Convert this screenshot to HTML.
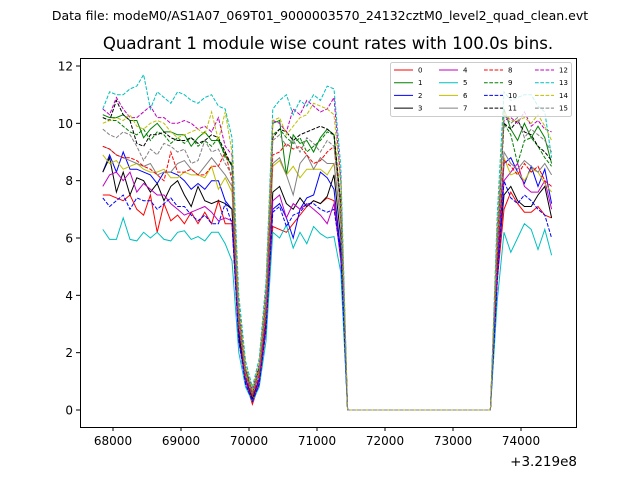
<!DOCTYPE html>
<html><head><meta charset="utf-8"><style>
body{margin:0;background:#fff;}
svg{display:block;font-family:"DejaVu Sans","Liberation Sans",sans-serif;}
</style></head><body>
<svg id="chart" width="640" height="480" viewBox="0 0 640 480">
<rect width="640" height="480" fill="#fff"/>
<text x="320" y="20" text-anchor="middle" font-size="12.5">Data file: modeM0/AS1A07_069T01_9000003570_24132cztM0_level2_quad_clean.evt</text>
<text x="328" y="49" text-anchor="middle" font-size="16.6">Quadrant 1 module wise count rates with 100.0s bins.</text>
<g id="plot"></g>
<rect x="80.5" y="58.5" width="496" height="369" fill="none" stroke="#000" stroke-width="1"/>
<g id="axes"></g>
<text x="577" y="466" text-anchor="end" font-size="13.5">+3.219e8</text>
<g id="legend"></g>
</svg>
<script>
const startTime = 67850;
const binSize = 100;
const xTicks = [68000,69000,70000,71000,72000,73000,74000];
const yTicks = [0,2,4,6,8,10,12];
const seriesNames = ['0','1','2','3','4','5','6','7','8','9','10','11','12','13','14','15'];
const colors = ['#ff0000','#008000','#0000ff','#000000','#bf00bf','#00bfbf','#bfbf00','#808080','#ff0000','#008000','#0000ff','#000000','#bf00bf','#00bfbf','#bfbf00','#808080'];
const gap = [0,0,0,0,0,0,0,0,0,0,0,0,0,0,0,0,0,0,0,0,0,0];
const segA = [
[7.5,7.5,7.4,7.3,7.5,7.0,6.8,7.5,6.2,7.2,6.6,6.8,6.5,6.9,6.5,6.9,6.5,7.3,6.5],
[10.3,10.2,10.2,10.3,10.1,10.1,9.5,9.8,10.0,9.7,9.7,9.6,9.6,9.2,9.5,9.7,9.4,9.4,8.9],
[8.3,8.9,8.3,9.0,8.4,8.4,8.3,8.2,7.9,8.3,8.3,8.2,8.0,7.7,7.9,7.7,8.0,8.0,7.3],
[8.3,8.8,7.6,8.3,7.5,8.1,8.0,7.6,7.9,7.3,7.8,8.0,7.5,7.1,7.8,7.3,7.2,7.3,7.2],
[7.8,8.2,8.3,8.0,8.3,7.6,7.9,7.7,7.5,7.5,7.2,7.0,6.8,6.9,7.0,7.1,6.9,6.6,6.7],
[6.3,5.95,5.95,6.7,5.95,5.9,6.2,6.0,6.2,5.95,5.9,6.2,6.25,5.95,6.05,5.9,6.2,6.2,5.8],
[8.9,8.6,8.7,8.4,8.5,8.6,8.4,8.3,8.3,8.4,8.1,8.1,8.3,8.2,8.2,8.1,8.5,7.7,8.1],
[9.2,9.1,8.9,8.8,8.7,8.6,8.5,8.6,8.2,8.3,8.3,8.6,8.7,8.4,8.2,8.5,8.8,8.5,8.2],
[9.2,9.1,8.9,8.8,8.8,8.7,8.5,8.4,8.2,8.0,9.0,8.3,8.3,8.4,8.2,8.2,8.5,8.5,9.0],
[10.2,10.1,10.1,9.9,9.7,9.6,9.8,9.4,9.7,9.6,9.3,9.5,9.3,9.5,9.2,9.4,9.2,9.5,8.8],
[7.4,7.1,7.3,7.5,7.0,7.4,7.3,7.3,7.0,7.2,7.4,7.1,7.1,6.8,6.6,6.8,6.5,6.5,7.2],
[10.2,10.1,10.8,10.3,10.1,9.3,9.2,9.6,9.6,9.7,9.5,9.4,9.4,9.5,9.3,9.4,9.6,9.5,9.0],
[10.5,10.3,10.9,10.5,10.2,10.2,10.4,10.6,10.2,10.2,10.0,10.0,10.1,10.0,9.8,9.9,9.7,10.2,9.2],
[10.5,11.1,11.0,11.0,11.2,11.3,11.7,10.5,11.1,10.9,10.7,11.1,11.0,10.8,10.7,10.9,11.0,10.6,10.5],
[10.0,10.1,10.2,10.1,10.3,9.9,9.8,10.0,10.1,10.0,9.7,9.5,9.6,9.7,9.8,9.6,10.4,9.4,10.4],
[9.8,9.6,9.5,9.7,9.6,9.2,8.7,9.1,8.9,9.3,9.2,9.0,9.1,8.6,8.7,9.4,9.0,9.1,8.6]];
const dip = [
[6.5,2.5,1.0,0.2,0.9,2.8],[8.5,3.5,1.4,0.5,1.4,3.8],[7.0,2.8,1.1,0.4,1.1,3.2],[7.0,2.6,1.0,0.4,1.0,3.0],
[6.6,2.4,1.0,0.3,1.0,2.9],[5.2,2.0,0.8,0.3,0.8,2.4],[7.6,3.0,1.2,0.5,1.3,3.4],[7.8,3.2,1.3,0.5,1.3,3.5],
[8.0,3.0,1.2,0.5,1.2,3.4],[8.6,3.4,1.4,0.6,1.5,3.9],[6.5,2.4,0.9,0.3,0.9,2.8],[8.5,3.6,1.5,0.6,1.5,4.0],
[8.9,3.5,1.5,0.7,1.6,4.2],[9.5,4.0,1.7,0.8,1.8,4.5],[9.0,3.6,1.5,0.7,1.6,4.1],[8.2,3.2,1.3,0.6,1.4,3.8]];
const segB = [
[6.4,6.3,6.2,6.5,6.8,7.1,7.3,7.2,7.4,7.3,5.5],
[10.0,10.1,8.2,9.6,9.3,9.4,9.0,9.5,9.8,9.6,7.0],
[7.0,7.2,6.7,6.0,7.0,7.4,7.5,8.3,8.1,7.7,5.5],
[7.6,7.8,7.2,7.0,7.4,7.1,7.3,7.2,7.45,8.2,6.0],
[7.3,7.5,6.7,7.2,7.0,7.2,7.0,6.8,6.5,7.2,5.2],
[6.2,6.0,6.45,5.65,6.2,5.8,6.4,6.15,6.0,6.05,4.8],
[8.5,8.7,8.2,8.5,8.1,8.4,8.4,8.4,8.2,8.6,6.5],
[8.6,8.8,8.2,7.5,8.6,8.9,8.4,8.8,8.6,8.6,6.6],
[8.9,9.0,9.3,9.1,9.2,8.9,8.6,8.7,9.0,9.2,7.0],
[9.6,9.8,9.5,9.3,9.5,9.0,9.2,9.4,9.7,9.6,7.2],
[6.9,7.1,6.4,6.8,6.9,7.2,7.2,7.0,6.9,7.0,5.4],
[9.5,9.8,9.7,9.4,9.6,9.7,9.8,9.9,9.8,9.6,7.2],
[10.1,10.0,9.7,10.5,10.3,10.8,10.6,10.4,10.5,10.9,8.0],
[10.5,10.8,11.0,10.3,10.8,10.6,11.0,10.8,11.3,11.2,8.5],
[10.1,10.2,9.6,9.9,10.2,10.3,10.7,10.6,10.5,10.3,7.8],
[9.4,9.6,9.2,9.4,9.0,9.5,9.3,9.0,9.4,9.2,7.0]];
const rise = [4.5,5.5,5.0,4.8,4.6,3.8,5.4,5.5,5.3,6.0,4.4,6.0,6.3,6.8,6.2,5.8];
const segC = [
[7.0,7.6,7.2,6.9,6.9,7.1,6.8,6.7],
[10.5,9.8,9.4,10.0,9.5,9.9,9.5,8.6],
[8.6,8.8,8.3,7.9,8.5,7.8,8.4,7.2],
[7.5,7.8,7.3,7.1,7.1,7.5,7.8,6.7],
[8.0,8.3,8.6,7.8,7.6,7.6,8.0,7.0],
[6.2,5.5,6.0,6.5,6.3,5.6,6.3,5.4],
[8.8,8.2,8.3,8.0,8.4,8.3,7.9,7.6],
[9.0,8.6,8.4,8.7,8.5,8.3,8.6,8.2],
[8.7,8.5,8.2,8.6,8.3,8.5,8.0,7.8],
[10.0,9.6,8.6,9.4,9.5,9.2,8.8,8.5],
[8.0,7.4,7.2,7.5,7.3,7.0,6.8,6.0],
[10.0,9.8,10.1,9.7,9.6,9.2,9.0,8.7],
[10.1,10.2,10.0,10.4,9.9,10.1,9.8,9.7],
[11.1,10.8,10.9,11.0,11.0,10.6,10.4,8.8],
[10.4,10.1,10.1,10.2,10.0,10.3,9.9,9.4],
[10.3,10.0,10.2,9.5,9.8,9.6,9.4,9.0]];

const NS='http://www.w3.org/2000/svg';
const xScale = t => 113 + (t - 68000) * 0.068;
const yScale = v => 410 - v * (344 / 12);
function mk(tag, attrs, parent){const e=document.createElementNS(NS,tag);for(const k in attrs)e.setAttribute(k,attrs[k]);parent.appendChild(e);return e;}

const axes=document.getElementById('axes');
xTicks.forEach(t=>{
  const x=xScale(t);
  const tk=mk('line',{x1:x,x2:x,y1:427,y2:431,stroke:'#000'},axes);
  
  
  const lb=mk('text',{x:x,y:445,'text-anchor':'middle','font-size':'12'},axes);
  lb.textContent=t;
  
  
});
yTicks.forEach(v=>{
  const y=yScale(v);
  const tk=mk('line',{x1:76,x2:80,y1:y,y2:y,stroke:'#000'},axes);
  
  
  const lb=mk('text',{x:73,y:y+4.5,'text-anchor':'end','font-size':'12'},axes);
  lb.textContent=v;
  
  
});

const plot=document.getElementById('plot');
seriesNames.forEach((n,i)=>{
  const vals=[].concat(segA[i],dip[i],segB[i],gap,[rise[i]],segC[i]);
  const pts=vals.map((v,k)=>xScale(startTime+k*binSize).toFixed(1)+','+yScale(v).toFixed(1)).join(' ');
  const pl=mk('polyline',{points:pts,fill:'none',stroke:colors[i],'stroke-width':1,'stroke-dasharray':i>=8?'3.7,1.6':'none'},plot);
  
  
});

const lg=document.getElementById('legend');
const box=mk('rect',{x:390.5,y:62.5,width:181,height:54,rx:2,fill:'#fff','fill-opacity':0.8,stroke:'#ccc'},lg);


const colX=[394,439,484,535];
seriesNames.forEach((n,i)=>{
  const c=Math.floor(i/4), r=i%4;
  const x=colX[c], y=70+r*12.7;
  const g=mk('g',{},lg);
  
  
  mk('line',{x1:x,x2:x+19,y1:y,y2:y,stroke:colors[i],'stroke-width':1,'stroke-dasharray':i>=8?'3.7,1.6':'none'},g);
  const t=mk('text',{x:x+24,y:y+2.5,'font-size':'7'},g);
  t.textContent=n;
});
</script>
</body></html>
